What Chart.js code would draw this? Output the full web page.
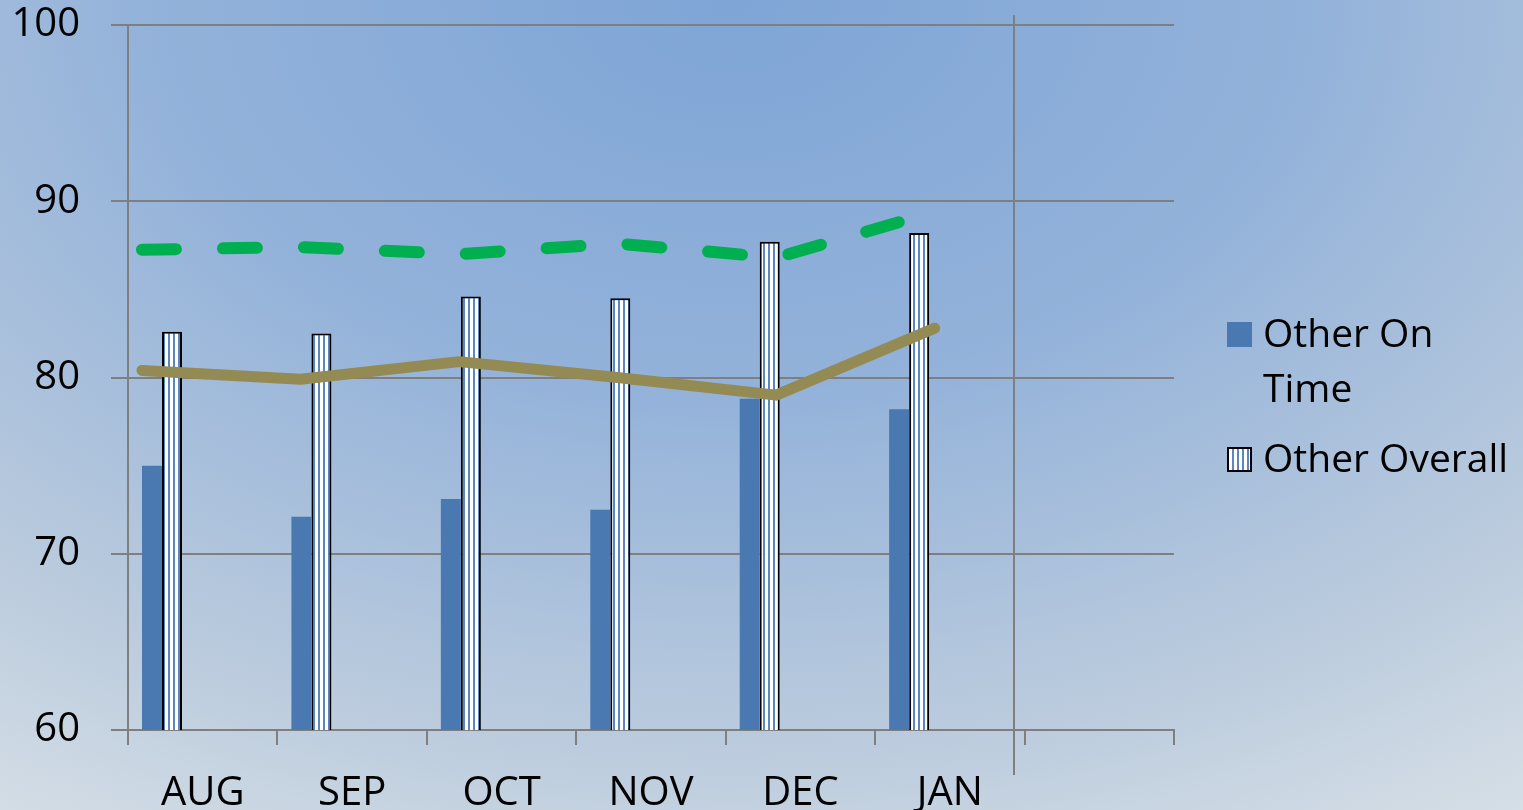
<!DOCTYPE html>
<html>
<head>
<meta charset="utf-8">
<title>Other On Time / Overall</title>
<script src="https://cdn.jsdelivr.net/npm/chart.js@4.4.1/dist/chart.umd.min.js"></script>
<style>
  html, body { margin: 0; padding: 0; }
  body {
    width: 1523px; height: 810px; overflow: hidden; position: relative;
    background: radial-gradient(ellipse 95% 120% at 48% 0%, #7ea5d6 0%, #93b2da 40%, #b9cadd 75%, #d6dfe6 100%);
    font-family: "Open Sans", sans-serif;
  }
  #wrap { position: absolute; left: 0; top: 0; width: 1523px; height: 810px; }
  .leg { position: absolute; left: 1227px; font-size: 39px; line-height: 55px; color: #000; }
  .leg .box { position: absolute; left: 0; top: 18px; width: 25px; height: 25px; box-sizing: border-box; }
  .leg .txt { margin-left: 36px; }
  #leg1 { top: 304px; width: 250px; }
  #leg2 { top: 429px; white-space: nowrap; }
  #leg1 .box { background: #4a78b0; }
  #leg2 .box { border: 2px solid #000; background: repeating-linear-gradient(90deg, #fff 0 3px, #5b86c0 3px 5px); }
</style>
</head>
<body>
<div id="wrap"><canvas id="myChart"></canvas></div>
<div class="leg" id="leg1"><span class="box"></span><div class="txt">Other On Time</div></div>
<div class="leg" id="leg2"><span class="box"></span><div class="txt">Other Overall</div></div>
<script>
// data
const months = ['AUG', 'SEP', 'OCT', 'NOV', 'DEC', 'JAN', ''];
const onTime = [75.0, 72.1, 73.1, 72.5, 78.8, 78.2];
const overall = [82.6, 82.5, 84.6, 84.5, 87.7, 88.2];
const oliveLine = [80.4, 79.9, 80.9, 80.0, 79.0, 82.8];
const greenLine = [87.25, 87.4, 87.0, 87.6, 86.8, 89.4];
const yTicks = [60, 70, 80, 90, 100];

const AXIS = '#7f7f7f';
const FONT = { family: '"Open Sans", sans-serif', size: 40 };

// vertical stripes for the "Overall" bars
function stripes() {
    const c = document.createElement('canvas');
    c.width = 5; c.height = 5;
    const g = c.getContext('2d');
    g.fillStyle = '#ffffff';
    g.fillRect(0, 0, 5, 5);
    g.fillStyle = '#5b86c0';
    g.fillRect(3, 0, 2, 5);
    return g.createPattern(c, 'repeat');
}

const pts = arr => arr.map((v, i) => ({ x: i, y: v }));

const ctx = document.getElementById('myChart');

// the extra vertical axis line of the secondary axis
const sideLine = {
    id: 'sideLine',
    afterDraw(chart) {
        const x2 = chart.scales.x2;
        const a = chart.chartArea;
        const px = Math.round(x2.getPixelForValue(5.5));
        const c = chart.ctx;
        c.save();
        c.strokeStyle = AXIS;
        c.lineWidth = 2;
        c.beginPath();
        c.moveTo(px, a.top - 10);
        c.lineTo(px, a.bottom + 45);
        c.stroke();
        c.restore();
    }
};

const myChart = new Chart(ctx, {
    data: {
        labels: months,
        datasets: [
            {
                type: 'line', label: 'Other Target', xAxisID: 'x2', order: 0,
                data: pts(greenLine),
                borderColor: '#00b050', borderWidth: 12, borderDash: [34, 47],
                borderCapStyle: 'round', pointRadius: 0, tension: 0
            },
            {
                type: 'line', label: 'Other Trend', xAxisID: 'x2', order: 0,
                data: pts(oliveLine),
                borderColor: '#948a54', borderWidth: 11, borderJoinStyle: 'round',
                borderCapStyle: 'round', pointRadius: 0, tension: 0
            },
            {
                type: 'bar', label: 'Other On Time', xAxisID: 'xb', order: 1,
                data: pts(onTime), grouped: false, maxBarThickness: 20,
                backgroundColor: '#4a78b0', borderWidth: 0
            },
            {
                type: 'bar', label: 'Other Overall', xAxisID: 'xc', order: 1,
                data: pts(overall), grouped: false, maxBarThickness: 20,
                backgroundColor: stripes(), borderColor: '#000', borderWidth: 2
            }
        ]
    },
    options: {
        responsive: true,
        maintainAspectRatio: false,
        animation: false,
        layout: { padding: { top: 0, right: 349, left: 0, bottom: 0 } },
        plugins: { legend: { display: false }, tooltip: { enabled: false } },
        scales: {
            x: {
                type: 'category',
                offset: true,
                grid: { offset: true, drawOnChartArea: false, color: AXIS, lineWidth: 2, tickLength: 15 },
                border: { color: AXIS, width: 2 },
                ticks: { color: '#000', font: FONT, padding: 25, maxRotation: 0, autoSkip: false },
                afterFit(s) { s.height = 80; }
            },
            // hidden axes: one for the lines, one per bar series (side by side slots)
            x2: { type: 'linear', display: false, offset: false, min: -0.088, max: 6.509 },
            xb: { type: 'linear', display: false, offset: false, min: -0.1606, max: 6.8394 },
            xc: { type: 'linear', display: false, offset: false, min: -0.2945, max: 6.7055 },
            y: {
                min: 60, max: 100,
                afterBuildTicks(s) { s.ticks = yTicks.map(v => ({ value: v })); },
                grid: { color: AXIS, lineWidth: 2, tickLength: 17 },
                border: { color: AXIS, width: 2 },
                ticks: { color: '#000', font: FONT, padding: 31 },
                afterFit(s) { s.width = 128; s.paddingTop = 25; s.paddingBottom = 0; }
            }
        }
    },
    plugins: [sideLine]
});
</script>
</body>
</html>
